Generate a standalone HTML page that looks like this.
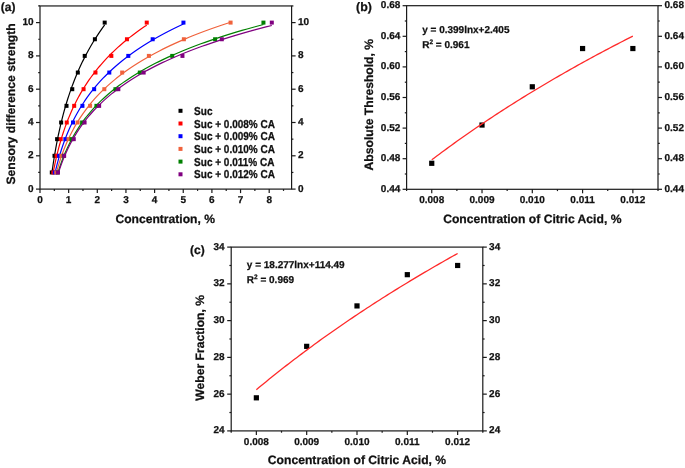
<!DOCTYPE html>
<html><head><meta charset="utf-8"><title>Figure</title>
<style>
html,body{margin:0;padding:0;background:#fff;}
body{width:685px;height:468px;overflow:hidden;}
svg{display:block;font-family:"Liberation Sans",sans-serif;font-weight:bold;fill:#111;text-rendering:geometricPrecision;filter:blur(0.55px);}
svg text{stroke:#111;stroke-width:0.25px;}
</style></head><body>
<svg width="685" height="468" viewBox="0 0 685 468">
<rect width="685" height="468" fill="#fff" stroke="none"/>
<rect x="40.00" y="5.95" width="251.60" height="183.15" fill="none" stroke="#1a1a1a" stroke-width="1.2"/>
<line x1="40.00" y1="189.10" x2="40.00" y2="193.10" stroke="#1a1a1a" stroke-width="1.2" />
<text x="40.00" y="202.70" font-size="10" text-anchor="middle" >0</text>
<line x1="68.65" y1="189.10" x2="68.65" y2="193.10" stroke="#1a1a1a" stroke-width="1.2" />
<text x="68.65" y="202.70" font-size="10" text-anchor="middle" >1</text>
<line x1="97.30" y1="189.10" x2="97.30" y2="193.10" stroke="#1a1a1a" stroke-width="1.2" />
<text x="97.30" y="202.70" font-size="10" text-anchor="middle" >2</text>
<line x1="125.95" y1="189.10" x2="125.95" y2="193.10" stroke="#1a1a1a" stroke-width="1.2" />
<text x="125.95" y="202.70" font-size="10" text-anchor="middle" >3</text>
<line x1="154.60" y1="189.10" x2="154.60" y2="193.10" stroke="#1a1a1a" stroke-width="1.2" />
<text x="154.60" y="202.70" font-size="10" text-anchor="middle" >4</text>
<line x1="183.25" y1="189.10" x2="183.25" y2="193.10" stroke="#1a1a1a" stroke-width="1.2" />
<text x="183.25" y="202.70" font-size="10" text-anchor="middle" >5</text>
<line x1="211.90" y1="189.10" x2="211.90" y2="193.10" stroke="#1a1a1a" stroke-width="1.2" />
<text x="211.90" y="202.70" font-size="10" text-anchor="middle" >6</text>
<line x1="240.55" y1="189.10" x2="240.55" y2="193.10" stroke="#1a1a1a" stroke-width="1.2" />
<text x="240.55" y="202.70" font-size="10" text-anchor="middle" >7</text>
<line x1="269.20" y1="189.10" x2="269.20" y2="193.10" stroke="#1a1a1a" stroke-width="1.2" />
<text x="269.20" y="202.70" font-size="10" text-anchor="middle" >8</text>
<line x1="54.33" y1="189.10" x2="54.33" y2="190.90" stroke="#1a1a1a" stroke-width="1.2" />
<line x1="82.97" y1="189.10" x2="82.97" y2="190.90" stroke="#1a1a1a" stroke-width="1.2" />
<line x1="111.62" y1="189.10" x2="111.62" y2="190.90" stroke="#1a1a1a" stroke-width="1.2" />
<line x1="140.27" y1="189.10" x2="140.27" y2="190.90" stroke="#1a1a1a" stroke-width="1.2" />
<line x1="168.92" y1="189.10" x2="168.92" y2="190.90" stroke="#1a1a1a" stroke-width="1.2" />
<line x1="197.57" y1="189.10" x2="197.57" y2="190.90" stroke="#1a1a1a" stroke-width="1.2" />
<line x1="226.22" y1="189.10" x2="226.22" y2="190.90" stroke="#1a1a1a" stroke-width="1.2" />
<line x1="254.88" y1="189.10" x2="254.88" y2="190.90" stroke="#1a1a1a" stroke-width="1.2" />
<line x1="283.52" y1="189.10" x2="283.52" y2="190.90" stroke="#1a1a1a" stroke-width="1.2" />
<line x1="36.00" y1="189.10" x2="40.00" y2="189.10" stroke="#1a1a1a" stroke-width="1.2" />
<text x="33.50" y="191.60" font-size="10" text-anchor="end" >0</text>
<line x1="291.60" y1="189.10" x2="295.60" y2="189.10" stroke="#1a1a1a" stroke-width="1.2" />
<text x="297.90" y="191.60" font-size="10" text-anchor="start" >0</text>
<line x1="36.00" y1="155.80" x2="40.00" y2="155.80" stroke="#1a1a1a" stroke-width="1.2" />
<text x="33.50" y="158.30" font-size="10" text-anchor="end" >2</text>
<line x1="291.60" y1="155.80" x2="295.60" y2="155.80" stroke="#1a1a1a" stroke-width="1.2" />
<text x="297.90" y="158.30" font-size="10" text-anchor="start" >2</text>
<line x1="36.00" y1="122.50" x2="40.00" y2="122.50" stroke="#1a1a1a" stroke-width="1.2" />
<text x="33.50" y="125.00" font-size="10" text-anchor="end" >4</text>
<line x1="291.60" y1="122.50" x2="295.60" y2="122.50" stroke="#1a1a1a" stroke-width="1.2" />
<text x="297.90" y="125.00" font-size="10" text-anchor="start" >4</text>
<line x1="36.00" y1="89.20" x2="40.00" y2="89.20" stroke="#1a1a1a" stroke-width="1.2" />
<text x="33.50" y="91.70" font-size="10" text-anchor="end" >6</text>
<line x1="291.60" y1="89.20" x2="295.60" y2="89.20" stroke="#1a1a1a" stroke-width="1.2" />
<text x="297.90" y="91.70" font-size="10" text-anchor="start" >6</text>
<line x1="36.00" y1="55.90" x2="40.00" y2="55.90" stroke="#1a1a1a" stroke-width="1.2" />
<text x="33.50" y="58.40" font-size="10" text-anchor="end" >8</text>
<line x1="291.60" y1="55.90" x2="295.60" y2="55.90" stroke="#1a1a1a" stroke-width="1.2" />
<text x="297.90" y="58.40" font-size="10" text-anchor="start" >8</text>
<line x1="36.00" y1="22.60" x2="40.00" y2="22.60" stroke="#1a1a1a" stroke-width="1.2" />
<text x="33.50" y="25.10" font-size="10" text-anchor="end" >10</text>
<line x1="291.60" y1="22.60" x2="295.60" y2="22.60" stroke="#1a1a1a" stroke-width="1.2" />
<text x="297.90" y="25.10" font-size="10" text-anchor="start" >10</text>
<line x1="38.20" y1="172.45" x2="40.00" y2="172.45" stroke="#1a1a1a" stroke-width="1.2" />
<line x1="291.60" y1="172.45" x2="293.40" y2="172.45" stroke="#1a1a1a" stroke-width="1.2" />
<line x1="38.20" y1="139.15" x2="40.00" y2="139.15" stroke="#1a1a1a" stroke-width="1.2" />
<line x1="291.60" y1="139.15" x2="293.40" y2="139.15" stroke="#1a1a1a" stroke-width="1.2" />
<line x1="38.20" y1="105.85" x2="40.00" y2="105.85" stroke="#1a1a1a" stroke-width="1.2" />
<line x1="291.60" y1="105.85" x2="293.40" y2="105.85" stroke="#1a1a1a" stroke-width="1.2" />
<line x1="38.20" y1="72.55" x2="40.00" y2="72.55" stroke="#1a1a1a" stroke-width="1.2" />
<line x1="291.60" y1="72.55" x2="293.40" y2="72.55" stroke="#1a1a1a" stroke-width="1.2" />
<line x1="38.20" y1="39.25" x2="40.00" y2="39.25" stroke="#1a1a1a" stroke-width="1.2" />
<line x1="291.60" y1="39.25" x2="293.40" y2="39.25" stroke="#1a1a1a" stroke-width="1.2" />
<line x1="38.20" y1="5.95" x2="40.00" y2="5.95" stroke="#1a1a1a" stroke-width="1.2" />
<line x1="291.60" y1="5.95" x2="293.40" y2="5.95" stroke="#1a1a1a" stroke-width="1.2" />
<polyline points="51.80,173.66 52.01,172.17 52.21,170.68 52.42,169.19 52.63,167.71 52.85,166.22 53.07,164.73 53.30,163.24 53.52,161.76 53.76,160.27 53.99,158.78 54.23,157.30 54.48,155.81 54.73,154.32 54.98,152.83 55.24,151.35 55.50,149.86 55.76,148.37 56.03,146.88 56.31,145.40 56.59,143.91 56.87,142.42 57.16,140.94 57.46,139.45 57.76,137.96 58.06,136.47 58.37,134.99 58.69,133.50 59.01,132.01 59.33,130.52 59.66,129.04 60.00,127.55 60.34,126.06 60.69,124.58 61.05,123.09 61.41,121.60 61.78,120.11 62.15,118.63 62.53,117.14 62.92,115.65 63.31,114.16 63.71,112.68 64.12,111.19 64.53,109.70 64.95,108.22 65.38,106.73 65.82,105.24 66.26,103.75 66.71,102.27 67.17,100.78 67.63,99.29 68.11,97.80 68.59,96.32 69.08,94.83 69.58,93.34 70.09,91.86 70.60,90.37 71.13,88.88 71.66,87.39 72.21,85.91 72.76,84.42 73.32,82.93 73.89,81.44 74.47,79.96 75.06,78.47 75.67,76.98 76.28,75.49 76.90,74.01 77.53,72.52 78.18,71.03 78.83,69.55 79.50,68.06 80.18,66.57 80.87,65.08 81.57,63.60 82.28,62.11 83.01,60.62 83.74,59.13 84.49,57.65 85.26,56.16 86.03,54.67 86.82,53.19 87.63,51.70 88.44,50.21 89.28,48.72 90.12,47.24 90.98,45.75 91.86,44.26 92.75,42.77 93.65,41.29 94.57,39.80 95.51,38.31 96.46,36.83 97.43,35.34 98.41,33.85 99.42,32.36 100.44,30.88 101.47,29.39 102.53,27.90 103.60,26.41 104.69,24.93" fill="none" stroke="#000000" stroke-width="1.2" stroke-linejoin="round"/>
<rect x="49.80" y="170.45" width="4.0" height="4.0" fill="#000000" stroke="none"/>
<rect x="52.50" y="153.80" width="4.0" height="4.0" fill="#000000" stroke="none"/>
<rect x="55.10" y="137.15" width="4.0" height="4.0" fill="#000000" stroke="none"/>
<rect x="59.14" y="120.50" width="4.0" height="4.0" fill="#000000" stroke="none"/>
<rect x="64.50" y="103.85" width="4.0" height="4.0" fill="#000000" stroke="none"/>
<rect x="70.26" y="87.20" width="4.0" height="4.0" fill="#000000" stroke="none"/>
<rect x="75.82" y="70.55" width="4.0" height="4.0" fill="#000000" stroke="none"/>
<rect x="82.72" y="53.90" width="4.0" height="4.0" fill="#000000" stroke="none"/>
<rect x="92.89" y="37.25" width="4.0" height="4.0" fill="#000000" stroke="none"/>
<rect x="102.69" y="20.60" width="4.0" height="4.0" fill="#000000" stroke="none"/>
<polyline points="53.32,171.91 53.60,170.44 53.89,168.98 54.18,167.51 54.48,166.04 54.78,164.57 55.09,163.11 55.41,161.64 55.74,160.17 56.07,158.70 56.40,157.24 56.75,155.77 57.10,154.30 57.46,152.83 57.83,151.37 58.20,149.90 58.59,148.43 58.98,146.96 59.38,145.50 59.78,144.03 60.20,142.56 60.62,141.09 61.06,139.63 61.50,138.16 61.95,136.69 62.41,135.22 62.89,133.76 63.37,132.29 63.86,130.82 64.36,129.35 64.87,127.89 65.40,126.42 65.93,124.95 66.47,123.48 67.03,122.02 67.60,120.55 68.18,119.08 68.77,117.61 69.38,116.15 70.00,114.68 70.63,113.21 71.27,111.74 71.93,110.27 72.60,108.81 73.28,107.34 73.98,105.87 74.70,104.40 75.43,102.94 76.17,101.47 76.93,100.00 77.71,98.53 78.50,97.07 79.31,95.60 80.14,94.13 80.98,92.66 81.85,91.20 82.73,89.73 83.63,88.26 84.54,86.79 85.48,85.33 86.44,83.86 87.41,82.39 88.41,80.92 89.43,79.46 90.47,77.99 91.53,76.52 92.61,75.05 93.72,73.59 94.85,72.12 96.00,70.65 97.18,69.18 98.38,67.72 99.61,66.25 100.86,64.78 102.14,63.31 103.45,61.85 104.78,60.38 106.14,58.91 107.54,57.44 108.96,55.98 110.41,54.51 111.89,53.04 113.40,51.57 114.94,50.10 116.52,48.64 118.13,47.17 119.77,45.70 121.45,44.23 123.16,42.77 124.91,41.30 126.69,39.83 128.52,38.36 130.38,36.90 132.28,35.43 134.22,33.96 136.20,32.49 138.22,31.03 140.29,29.56 142.40,28.09 144.55,26.62 146.75,25.16" fill="none" stroke="#ff0000" stroke-width="1.2" stroke-linejoin="round"/>
<rect x="51.32" y="170.45" width="4.0" height="4.0" fill="#ff0000" stroke="none"/>
<rect x="54.62" y="153.80" width="4.0" height="4.0" fill="#ff0000" stroke="none"/>
<rect x="58.71" y="137.15" width="4.0" height="4.0" fill="#ff0000" stroke="none"/>
<rect x="64.76" y="120.50" width="4.0" height="4.0" fill="#ff0000" stroke="none"/>
<rect x="72.18" y="103.85" width="4.0" height="4.0" fill="#ff0000" stroke="none"/>
<rect x="81.58" y="87.20" width="4.0" height="4.0" fill="#ff0000" stroke="none"/>
<rect x="93.47" y="70.55" width="4.0" height="4.0" fill="#ff0000" stroke="none"/>
<rect x="109.34" y="53.90" width="4.0" height="4.0" fill="#ff0000" stroke="none"/>
<rect x="124.95" y="37.25" width="4.0" height="4.0" fill="#ff0000" stroke="none"/>
<rect x="144.75" y="20.60" width="4.0" height="4.0" fill="#ff0000" stroke="none"/>
<polyline points="54.81,173.96 55.15,172.46 55.50,170.96 55.86,169.46 56.22,167.96 56.59,166.46 56.97,164.96 57.36,163.46 57.76,161.96 58.17,160.46 58.59,158.96 59.01,157.46 59.45,155.96 59.90,154.46 60.35,152.96 60.82,151.46 61.30,149.96 61.79,148.46 62.29,146.96 62.80,145.46 63.33,143.96 63.86,142.46 64.41,140.96 64.97,139.46 65.54,137.96 66.13,136.46 66.73,134.96 67.34,133.46 67.97,131.96 68.61,130.46 69.27,128.96 69.94,127.46 70.63,125.96 71.33,124.46 72.05,122.96 72.79,121.46 73.54,119.96 74.31,118.46 75.10,116.96 75.91,115.46 76.73,113.96 77.58,112.46 78.44,110.96 79.32,109.46 80.22,107.96 81.15,106.46 82.09,104.96 83.06,103.46 84.05,101.96 85.06,100.46 86.10,98.96 87.15,97.46 88.24,95.96 89.34,94.46 90.48,92.96 91.64,91.46 92.82,89.96 94.04,88.46 95.28,86.96 96.55,85.46 97.85,83.96 99.17,82.46 100.53,80.96 101.92,79.46 103.34,77.96 104.80,76.46 106.29,74.96 107.81,73.46 109.37,71.96 110.96,70.46 112.59,68.96 114.26,67.46 115.96,65.96 117.71,64.46 119.49,62.96 121.32,61.46 123.18,59.96 125.09,58.46 127.05,56.96 129.05,55.46 131.09,53.96 133.18,52.46 135.32,50.96 137.51,49.46 139.75,47.96 142.04,46.46 144.39,44.96 146.79,43.46 149.24,41.96 151.75,40.46 154.31,38.96 156.94,37.46 159.62,35.96 162.37,34.46 165.18,32.96 168.06,31.46 171.00,29.96 174.00,28.46 177.08,26.96 180.23,25.46 183.45,23.96" fill="none" stroke="#0000ff" stroke-width="1.2" stroke-linejoin="round"/>
<rect x="52.81" y="170.45" width="4.0" height="4.0" fill="#0000ff" stroke="none"/>
<rect x="57.11" y="153.80" width="4.0" height="4.0" fill="#0000ff" stroke="none"/>
<rect x="63.36" y="137.15" width="4.0" height="4.0" fill="#0000ff" stroke="none"/>
<rect x="71.00" y="120.50" width="4.0" height="4.0" fill="#0000ff" stroke="none"/>
<rect x="80.43" y="103.85" width="4.0" height="4.0" fill="#0000ff" stroke="none"/>
<rect x="92.15" y="87.20" width="4.0" height="4.0" fill="#0000ff" stroke="none"/>
<rect x="107.30" y="70.55" width="4.0" height="4.0" fill="#0000ff" stroke="none"/>
<rect x="126.30" y="53.90" width="4.0" height="4.0" fill="#0000ff" stroke="none"/>
<rect x="150.68" y="37.25" width="4.0" height="4.0" fill="#0000ff" stroke="none"/>
<rect x="181.45" y="20.60" width="4.0" height="4.0" fill="#0000ff" stroke="none"/>
<polyline points="56.27,173.20 56.68,171.69 57.09,170.18 57.52,168.67 57.96,167.16 58.40,165.65 58.86,164.14 59.33,162.63 59.81,161.12 60.31,159.61 60.81,158.10 61.33,156.59 61.86,155.08 62.41,153.57 62.97,152.06 63.54,150.55 64.12,149.04 64.72,147.53 65.34,146.03 65.97,144.52 66.62,143.01 67.28,141.50 67.96,139.99 68.66,138.48 69.37,136.97 70.10,135.46 70.85,133.95 71.62,132.44 72.41,130.93 73.22,129.42 74.05,127.91 74.89,126.40 75.76,124.89 76.65,123.38 77.57,121.87 78.50,120.36 79.46,118.85 80.44,117.34 81.45,115.83 82.48,114.32 83.54,112.81 84.63,111.30 85.74,109.79 86.88,108.28 88.05,106.77 89.24,105.26 90.47,103.75 91.73,102.24 93.02,100.73 94.34,99.22 95.69,97.71 97.08,96.20 98.50,94.69 99.96,93.18 101.45,91.67 102.98,90.16 104.55,88.65 106.16,87.14 107.81,85.63 109.49,84.12 111.23,82.62 113.00,81.11 114.82,79.60 116.68,78.09 118.59,76.58 120.55,75.07 122.56,73.56 124.61,72.05 126.72,70.54 128.88,69.03 131.10,67.52 133.36,66.01 135.69,64.50 138.07,62.99 140.52,61.48 143.02,59.97 145.59,58.46 148.22,56.95 150.91,55.44 153.68,53.93 156.51,52.42 159.41,50.91 162.38,49.40 165.43,47.89 168.56,46.38 171.76,44.87 175.04,43.36 178.41,41.85 181.85,40.34 185.39,38.83 189.01,37.32 192.72,35.81 196.53,34.30 200.43,32.79 204.42,31.28 208.52,29.77 212.72,28.26 217.02,26.75 221.43,25.24 225.95,23.73 230.58,22.22" fill="none" stroke="#f0623c" stroke-width="1.2" stroke-linejoin="round"/>
<rect x="54.27" y="170.45" width="4.0" height="4.0" fill="#f0623c" stroke="none"/>
<rect x="59.46" y="153.80" width="4.0" height="4.0" fill="#f0623c" stroke="none"/>
<rect x="66.51" y="137.15" width="4.0" height="4.0" fill="#f0623c" stroke="none"/>
<rect x="75.59" y="120.50" width="4.0" height="4.0" fill="#f0623c" stroke="none"/>
<rect x="88.11" y="103.85" width="4.0" height="4.0" fill="#f0623c" stroke="none"/>
<rect x="102.32" y="87.20" width="4.0" height="4.0" fill="#f0623c" stroke="none"/>
<rect x="120.17" y="70.55" width="4.0" height="4.0" fill="#f0623c" stroke="none"/>
<rect x="146.87" y="53.90" width="4.0" height="4.0" fill="#f0623c" stroke="none"/>
<rect x="181.88" y="37.25" width="4.0" height="4.0" fill="#f0623c" stroke="none"/>
<rect x="228.58" y="20.60" width="4.0" height="4.0" fill="#f0623c" stroke="none"/>
<polyline points="57.88,172.87 58.33,171.39 58.80,169.90 59.28,168.42 59.78,166.94 60.28,165.45 60.80,163.97 61.33,162.49 61.88,161.00 62.44,159.52 63.01,158.04 63.60,156.55 64.21,155.07 64.83,153.58 65.46,152.10 66.11,150.62 66.78,149.13 67.46,147.65 68.17,146.17 68.89,144.68 69.63,143.20 70.38,141.72 71.16,140.23 71.96,138.75 72.78,137.27 73.61,135.78 74.47,134.30 75.36,132.81 76.26,131.33 77.19,129.85 78.14,128.36 79.11,126.88 80.11,125.40 81.14,123.91 82.19,122.43 83.27,120.95 84.38,119.46 85.51,117.98 86.68,116.50 87.87,115.01 89.10,113.53 90.35,112.04 91.64,110.56 92.96,109.08 94.32,107.59 95.70,106.11 97.13,104.63 98.59,103.14 100.09,101.66 101.63,100.18 103.20,98.69 104.82,97.21 106.48,95.73 108.18,94.24 109.92,92.76 111.71,91.27 113.54,89.79 115.43,88.31 117.35,86.82 119.33,85.34 121.36,83.86 123.44,82.37 125.58,80.89 127.77,79.41 130.01,77.92 132.31,76.44 134.67,74.96 137.10,73.47 139.58,71.99 142.13,70.51 144.74,69.02 147.42,67.54 150.17,66.05 152.98,64.57 155.87,63.09 158.84,61.60 161.88,60.12 164.99,58.64 168.19,57.15 171.47,55.67 174.83,54.19 178.28,52.70 181.82,51.22 185.44,49.74 189.16,48.25 192.98,46.77 196.89,45.28 200.91,43.80 205.02,42.32 209.24,40.83 213.57,39.35 218.01,37.87 222.56,36.38 227.23,34.90 232.02,33.42 236.93,31.93 241.97,30.45 247.14,28.97 252.44,27.48 257.87,26.00 263.44,24.51" fill="none" stroke="#008000" stroke-width="1.2" stroke-linejoin="round"/>
<rect x="55.88" y="170.45" width="4.0" height="4.0" fill="#008000" stroke="none"/>
<rect x="61.78" y="153.80" width="4.0" height="4.0" fill="#008000" stroke="none"/>
<rect x="69.52" y="137.15" width="4.0" height="4.0" fill="#008000" stroke="none"/>
<rect x="80.12" y="120.50" width="4.0" height="4.0" fill="#008000" stroke="none"/>
<rect x="94.44" y="103.85" width="4.0" height="4.0" fill="#008000" stroke="none"/>
<rect x="113.44" y="87.20" width="4.0" height="4.0" fill="#008000" stroke="none"/>
<rect x="137.82" y="70.55" width="4.0" height="4.0" fill="#008000" stroke="none"/>
<rect x="170.25" y="53.90" width="4.0" height="4.0" fill="#008000" stroke="none"/>
<rect x="213.11" y="37.25" width="4.0" height="4.0" fill="#008000" stroke="none"/>
<rect x="261.44" y="20.60" width="4.0" height="4.0" fill="#008000" stroke="none"/>
<polyline points="57.99,174.26 58.46,172.77 58.94,171.28 59.43,169.79 59.93,168.30 60.44,166.82 60.97,165.33 61.52,163.84 62.07,162.35 62.65,160.86 63.23,159.38 63.83,157.89 64.45,156.40 65.08,154.91 65.73,153.42 66.40,151.94 67.08,150.45 67.78,148.96 68.50,147.47 69.24,145.98 70.00,144.50 70.77,143.01 71.57,141.52 72.39,140.03 73.23,138.55 74.09,137.06 74.97,135.57 75.88,134.08 76.80,132.59 77.76,131.11 78.73,129.62 79.74,128.13 80.77,126.64 81.82,125.15 82.90,123.67 84.01,122.18 85.15,120.69 86.32,119.20 87.52,117.71 88.75,116.23 90.02,114.74 91.31,113.25 92.64,111.76 94.00,110.27 95.40,108.79 96.83,107.30 98.30,105.81 99.81,104.32 101.36,102.84 102.95,101.35 104.58,99.86 106.25,98.37 107.97,96.88 109.73,95.40 111.53,93.91 113.39,92.42 115.28,90.93 117.23,89.44 119.23,87.96 121.28,86.47 123.39,84.98 125.55,83.49 127.76,82.00 130.03,80.52 132.37,79.03 134.76,77.54 137.21,76.05 139.73,74.56 142.31,73.08 144.96,71.59 147.67,70.10 150.46,68.61 153.32,67.12 156.26,65.64 159.27,64.15 162.35,62.66 165.52,61.17 168.77,59.69 172.10,58.20 175.52,56.71 179.03,55.22 182.63,53.73 186.33,52.25 190.11,50.76 194.00,49.27 197.99,47.78 202.08,46.29 206.27,44.81 210.58,43.32 214.99,41.83 219.52,40.34 224.17,38.85 228.94,37.37 233.83,35.88 238.85,34.39 244.00,32.90 249.28,31.41 254.70,29.93 260.26,28.44 265.96,26.95 271.81,25.46" fill="none" stroke="#800080" stroke-width="1.2" stroke-linejoin="round"/>
<rect x="55.99" y="170.45" width="4.0" height="4.0" fill="#800080" stroke="none"/>
<rect x="62.15" y="153.80" width="4.0" height="4.0" fill="#800080" stroke="none"/>
<rect x="71.75" y="137.15" width="4.0" height="4.0" fill="#800080" stroke="none"/>
<rect x="82.58" y="120.50" width="4.0" height="4.0" fill="#800080" stroke="none"/>
<rect x="97.13" y="103.85" width="4.0" height="4.0" fill="#800080" stroke="none"/>
<rect x="116.33" y="87.20" width="4.0" height="4.0" fill="#800080" stroke="none"/>
<rect x="141.66" y="70.55" width="4.0" height="4.0" fill="#800080" stroke="none"/>
<rect x="180.45" y="53.90" width="4.0" height="4.0" fill="#800080" stroke="none"/>
<rect x="219.81" y="37.25" width="4.0" height="4.0" fill="#800080" stroke="none"/>
<rect x="269.81" y="20.60" width="4.0" height="4.0" fill="#800080" stroke="none"/>
<rect x="178.50" y="108.80" width="4.0" height="4.0" fill="#000000" stroke="none"/>
<text transform="translate(194.1,114.90) scale(1,1.15)" font-size="10" text-anchor="start">Suc</text>
<rect x="178.50" y="121.50" width="4.0" height="4.0" fill="#ff0000" stroke="none"/>
<text transform="translate(194.1,127.60) scale(1,1.15)" font-size="10" text-anchor="start">Suc + 0.008% CA</text>
<rect x="178.50" y="134.20" width="4.0" height="4.0" fill="#0000ff" stroke="none"/>
<text transform="translate(194.1,140.30) scale(1,1.15)" font-size="10" text-anchor="start">Suc + 0.009% CA</text>
<rect x="178.50" y="146.90" width="4.0" height="4.0" fill="#f0623c" stroke="none"/>
<text transform="translate(194.1,153.00) scale(1,1.15)" font-size="10" text-anchor="start">Suc + 0.010% CA</text>
<rect x="178.50" y="159.60" width="4.0" height="4.0" fill="#008000" stroke="none"/>
<text transform="translate(194.1,165.70) scale(1,1.15)" font-size="10" text-anchor="start">Suc + 0.011% CA</text>
<rect x="178.50" y="172.30" width="4.0" height="4.0" fill="#800080" stroke="none"/>
<text transform="translate(194.1,178.40) scale(1,1.15)" font-size="10" text-anchor="start">Suc + 0.012% CA</text>
<text x="165.20" y="223.30" font-size="12.1" text-anchor="middle" >Concentration, %</text>
<text transform="translate(14.5,103.925) rotate(-90)" font-size="12.15" text-anchor="middle">Sensory difference strength</text>
<text x="0.80" y="10.90" font-size="12" text-anchor="start" >(a)</text>
<rect x="406.60" y="5.70" width="251.40" height="183.60" fill="none" stroke="#1a1a1a" stroke-width="1.2"/>
<line x1="431.74" y1="189.30" x2="431.74" y2="193.30" stroke="#1a1a1a" stroke-width="1.2" />
<text x="431.74" y="202.90" font-size="10" text-anchor="middle" >0.008</text>
<line x1="482.02" y1="189.30" x2="482.02" y2="193.30" stroke="#1a1a1a" stroke-width="1.2" />
<text x="482.02" y="202.90" font-size="10" text-anchor="middle" >0.009</text>
<line x1="532.30" y1="189.30" x2="532.30" y2="193.30" stroke="#1a1a1a" stroke-width="1.2" />
<text x="532.30" y="202.90" font-size="10" text-anchor="middle" >0.010</text>
<line x1="582.58" y1="189.30" x2="582.58" y2="193.30" stroke="#1a1a1a" stroke-width="1.2" />
<text x="582.58" y="202.90" font-size="10" text-anchor="middle" >0.011</text>
<line x1="632.86" y1="189.30" x2="632.86" y2="193.30" stroke="#1a1a1a" stroke-width="1.2" />
<text x="632.86" y="202.90" font-size="10" text-anchor="middle" >0.012</text>
<line x1="406.60" y1="189.30" x2="406.60" y2="191.10" stroke="#1a1a1a" stroke-width="1.2" />
<line x1="456.88" y1="189.30" x2="456.88" y2="191.10" stroke="#1a1a1a" stroke-width="1.2" />
<line x1="507.16" y1="189.30" x2="507.16" y2="191.10" stroke="#1a1a1a" stroke-width="1.2" />
<line x1="557.44" y1="189.30" x2="557.44" y2="191.10" stroke="#1a1a1a" stroke-width="1.2" />
<line x1="607.72" y1="189.30" x2="607.72" y2="191.10" stroke="#1a1a1a" stroke-width="1.2" />
<line x1="658.00" y1="189.30" x2="658.00" y2="191.10" stroke="#1a1a1a" stroke-width="1.2" />
<line x1="402.60" y1="189.30" x2="406.60" y2="189.30" stroke="#1a1a1a" stroke-width="1.2" />
<text x="400.30" y="191.80" font-size="10" text-anchor="end" >0.44</text>
<line x1="658.00" y1="189.30" x2="662.00" y2="189.30" stroke="#1a1a1a" stroke-width="1.2" />
<text x="664.50" y="191.80" font-size="10" text-anchor="start" >0.44</text>
<line x1="402.60" y1="158.70" x2="406.60" y2="158.70" stroke="#1a1a1a" stroke-width="1.2" />
<text x="400.30" y="161.20" font-size="10" text-anchor="end" >0.48</text>
<line x1="658.00" y1="158.70" x2="662.00" y2="158.70" stroke="#1a1a1a" stroke-width="1.2" />
<text x="664.50" y="161.20" font-size="10" text-anchor="start" >0.48</text>
<line x1="402.60" y1="128.10" x2="406.60" y2="128.10" stroke="#1a1a1a" stroke-width="1.2" />
<text x="400.30" y="130.60" font-size="10" text-anchor="end" >0.52</text>
<line x1="658.00" y1="128.10" x2="662.00" y2="128.10" stroke="#1a1a1a" stroke-width="1.2" />
<text x="664.50" y="130.60" font-size="10" text-anchor="start" >0.52</text>
<line x1="402.60" y1="97.50" x2="406.60" y2="97.50" stroke="#1a1a1a" stroke-width="1.2" />
<text x="400.30" y="100.00" font-size="10" text-anchor="end" >0.56</text>
<line x1="658.00" y1="97.50" x2="662.00" y2="97.50" stroke="#1a1a1a" stroke-width="1.2" />
<text x="664.50" y="100.00" font-size="10" text-anchor="start" >0.56</text>
<line x1="402.60" y1="66.90" x2="406.60" y2="66.90" stroke="#1a1a1a" stroke-width="1.2" />
<text x="400.30" y="69.40" font-size="10" text-anchor="end" >0.60</text>
<line x1="658.00" y1="66.90" x2="662.00" y2="66.90" stroke="#1a1a1a" stroke-width="1.2" />
<text x="664.50" y="69.40" font-size="10" text-anchor="start" >0.60</text>
<line x1="402.60" y1="36.30" x2="406.60" y2="36.30" stroke="#1a1a1a" stroke-width="1.2" />
<text x="400.30" y="38.80" font-size="10" text-anchor="end" >0.64</text>
<line x1="658.00" y1="36.30" x2="662.00" y2="36.30" stroke="#1a1a1a" stroke-width="1.2" />
<text x="664.50" y="38.80" font-size="10" text-anchor="start" >0.64</text>
<line x1="402.60" y1="5.70" x2="406.60" y2="5.70" stroke="#1a1a1a" stroke-width="1.2" />
<text x="400.30" y="8.20" font-size="10" text-anchor="end" >0.68</text>
<line x1="658.00" y1="5.70" x2="662.00" y2="5.70" stroke="#1a1a1a" stroke-width="1.2" />
<text x="664.50" y="8.20" font-size="10" text-anchor="start" >0.68</text>
<line x1="404.80" y1="174.00" x2="406.60" y2="174.00" stroke="#1a1a1a" stroke-width="1.2" />
<line x1="658.00" y1="174.00" x2="659.80" y2="174.00" stroke="#1a1a1a" stroke-width="1.2" />
<line x1="404.80" y1="143.40" x2="406.60" y2="143.40" stroke="#1a1a1a" stroke-width="1.2" />
<line x1="658.00" y1="143.40" x2="659.80" y2="143.40" stroke="#1a1a1a" stroke-width="1.2" />
<line x1="404.80" y1="112.80" x2="406.60" y2="112.80" stroke="#1a1a1a" stroke-width="1.2" />
<line x1="658.00" y1="112.80" x2="659.80" y2="112.80" stroke="#1a1a1a" stroke-width="1.2" />
<line x1="404.80" y1="82.20" x2="406.60" y2="82.20" stroke="#1a1a1a" stroke-width="1.2" />
<line x1="658.00" y1="82.20" x2="659.80" y2="82.20" stroke="#1a1a1a" stroke-width="1.2" />
<line x1="404.80" y1="51.60" x2="406.60" y2="51.60" stroke="#1a1a1a" stroke-width="1.2" />
<line x1="658.00" y1="51.60" x2="659.80" y2="51.60" stroke="#1a1a1a" stroke-width="1.2" />
<line x1="404.80" y1="21.00" x2="406.60" y2="21.00" stroke="#1a1a1a" stroke-width="1.2" />
<line x1="658.00" y1="21.00" x2="659.80" y2="21.00" stroke="#1a1a1a" stroke-width="1.2" />
<rect x="429.14" y="160.69" width="5.2" height="5.2" fill="#000" stroke="none"/>
<rect x="479.42" y="122.44" width="5.2" height="5.2" fill="#000" stroke="none"/>
<rect x="529.70" y="84.19" width="5.2" height="5.2" fill="#000" stroke="none"/>
<rect x="579.98" y="45.94" width="5.2" height="5.2" fill="#000" stroke="none"/>
<rect x="630.26" y="45.94" width="5.2" height="5.2" fill="#000" stroke="none"/>
<polyline points="431.74,159.85 434.25,157.94 436.77,156.05 439.28,154.18 441.80,152.31 444.31,150.45 446.82,148.61 449.34,146.78 451.85,144.95 454.37,143.14 456.88,141.34 459.39,139.55 461.91,137.77 464.42,136.00 466.94,134.24 469.45,132.49 471.96,130.75 474.48,129.02 476.99,127.30 479.51,125.59 482.02,123.89 484.53,122.20 487.05,120.52 489.56,118.85 492.08,117.19 494.59,115.53 497.10,113.89 499.62,112.25 502.13,110.62 504.65,109.00 507.16,107.39 509.67,105.79 512.19,104.19 514.70,102.61 517.22,101.03 519.73,99.46 522.24,97.90 524.76,96.35 527.27,94.80 529.79,93.26 532.30,91.73 534.81,90.21 537.33,88.70 539.84,87.19 542.36,85.69 544.87,84.20 547.38,82.71 549.90,81.23 552.41,79.76 554.93,78.30 557.44,76.84 559.95,75.39 562.47,73.95 564.98,72.51 567.50,71.08 570.01,69.66 572.52,68.24 575.04,66.83 577.55,65.43 580.07,64.03 582.58,62.64 585.09,61.26 587.61,59.88 590.12,58.51 592.64,57.14 595.15,55.78 597.66,54.43 600.18,53.08 602.69,51.74 605.21,50.40 607.72,49.07 610.23,47.75 612.75,46.43 615.26,45.12 617.78,43.81 620.29,42.51 622.80,41.21 625.32,39.92 627.83,38.64 630.35,37.36 632.86,36.08" fill="none" stroke="#ff2a2a" stroke-width="1.3"/>
<text x="532.30" y="223.30" font-size="12.15" text-anchor="middle" >Concentration of Citric Acid, %</text>
<text transform="translate(373.0,104.7) rotate(-90)" font-size="12.15" text-anchor="middle">Absolute Threshold, %</text>
<text x="356.00" y="11.00" font-size="12.4" text-anchor="start" >(b)</text>
<text x="422.20" y="32.80" font-size="10" text-anchor="start" >y = 0.399lnx+2.405</text>
<text x="422.2" y="47.8" font-size="10" text-anchor="start">R<tspan font-size="6.5" dy="-4">2</tspan><tspan dy="4"> = 0.961</tspan></text>
<rect x="231.20" y="247.10" width="251.60" height="183.80" fill="none" stroke="#1a1a1a" stroke-width="1.2"/>
<line x1="256.36" y1="430.90" x2="256.36" y2="434.90" stroke="#1a1a1a" stroke-width="1.2" />
<text x="256.36" y="444.50" font-size="10" text-anchor="middle" >0.008</text>
<line x1="306.68" y1="430.90" x2="306.68" y2="434.90" stroke="#1a1a1a" stroke-width="1.2" />
<text x="306.68" y="444.50" font-size="10" text-anchor="middle" >0.009</text>
<line x1="357.00" y1="430.90" x2="357.00" y2="434.90" stroke="#1a1a1a" stroke-width="1.2" />
<text x="357.00" y="444.50" font-size="10" text-anchor="middle" >0.010</text>
<line x1="407.32" y1="430.90" x2="407.32" y2="434.90" stroke="#1a1a1a" stroke-width="1.2" />
<text x="407.32" y="444.50" font-size="10" text-anchor="middle" >0.011</text>
<line x1="457.64" y1="430.90" x2="457.64" y2="434.90" stroke="#1a1a1a" stroke-width="1.2" />
<text x="457.64" y="444.50" font-size="10" text-anchor="middle" >0.012</text>
<line x1="231.20" y1="430.90" x2="231.20" y2="432.70" stroke="#1a1a1a" stroke-width="1.2" />
<line x1="281.52" y1="430.90" x2="281.52" y2="432.70" stroke="#1a1a1a" stroke-width="1.2" />
<line x1="331.84" y1="430.90" x2="331.84" y2="432.70" stroke="#1a1a1a" stroke-width="1.2" />
<line x1="382.16" y1="430.90" x2="382.16" y2="432.70" stroke="#1a1a1a" stroke-width="1.2" />
<line x1="432.48" y1="430.90" x2="432.48" y2="432.70" stroke="#1a1a1a" stroke-width="1.2" />
<line x1="482.80" y1="430.90" x2="482.80" y2="432.70" stroke="#1a1a1a" stroke-width="1.2" />
<line x1="227.20" y1="430.90" x2="231.20" y2="430.90" stroke="#1a1a1a" stroke-width="1.2" />
<text x="224.70" y="433.40" font-size="10" text-anchor="end" >24</text>
<line x1="482.80" y1="430.90" x2="486.80" y2="430.90" stroke="#1a1a1a" stroke-width="1.2" />
<text x="489.10" y="433.40" font-size="10" text-anchor="start" >24</text>
<line x1="227.20" y1="394.14" x2="231.20" y2="394.14" stroke="#1a1a1a" stroke-width="1.2" />
<text x="224.70" y="396.64" font-size="10" text-anchor="end" >26</text>
<line x1="482.80" y1="394.14" x2="486.80" y2="394.14" stroke="#1a1a1a" stroke-width="1.2" />
<text x="489.10" y="396.64" font-size="10" text-anchor="start" >26</text>
<line x1="227.20" y1="357.38" x2="231.20" y2="357.38" stroke="#1a1a1a" stroke-width="1.2" />
<text x="224.70" y="359.88" font-size="10" text-anchor="end" >28</text>
<line x1="482.80" y1="357.38" x2="486.80" y2="357.38" stroke="#1a1a1a" stroke-width="1.2" />
<text x="489.10" y="359.88" font-size="10" text-anchor="start" >28</text>
<line x1="227.20" y1="320.62" x2="231.20" y2="320.62" stroke="#1a1a1a" stroke-width="1.2" />
<text x="224.70" y="323.12" font-size="10" text-anchor="end" >30</text>
<line x1="482.80" y1="320.62" x2="486.80" y2="320.62" stroke="#1a1a1a" stroke-width="1.2" />
<text x="489.10" y="323.12" font-size="10" text-anchor="start" >30</text>
<line x1="227.20" y1="283.86" x2="231.20" y2="283.86" stroke="#1a1a1a" stroke-width="1.2" />
<text x="224.70" y="286.36" font-size="10" text-anchor="end" >32</text>
<line x1="482.80" y1="283.86" x2="486.80" y2="283.86" stroke="#1a1a1a" stroke-width="1.2" />
<text x="489.10" y="286.36" font-size="10" text-anchor="start" >32</text>
<line x1="227.20" y1="247.10" x2="231.20" y2="247.10" stroke="#1a1a1a" stroke-width="1.2" />
<text x="224.70" y="249.60" font-size="10" text-anchor="end" >34</text>
<line x1="482.80" y1="247.10" x2="486.80" y2="247.10" stroke="#1a1a1a" stroke-width="1.2" />
<text x="489.10" y="249.60" font-size="10" text-anchor="start" >34</text>
<line x1="229.40" y1="412.52" x2="231.20" y2="412.52" stroke="#1a1a1a" stroke-width="1.2" />
<line x1="482.80" y1="412.52" x2="484.60" y2="412.52" stroke="#1a1a1a" stroke-width="1.2" />
<line x1="229.40" y1="375.76" x2="231.20" y2="375.76" stroke="#1a1a1a" stroke-width="1.2" />
<line x1="482.80" y1="375.76" x2="484.60" y2="375.76" stroke="#1a1a1a" stroke-width="1.2" />
<line x1="229.40" y1="339.00" x2="231.20" y2="339.00" stroke="#1a1a1a" stroke-width="1.2" />
<line x1="482.80" y1="339.00" x2="484.60" y2="339.00" stroke="#1a1a1a" stroke-width="1.2" />
<line x1="229.40" y1="302.24" x2="231.20" y2="302.24" stroke="#1a1a1a" stroke-width="1.2" />
<line x1="482.80" y1="302.24" x2="484.60" y2="302.24" stroke="#1a1a1a" stroke-width="1.2" />
<line x1="229.40" y1="265.48" x2="231.20" y2="265.48" stroke="#1a1a1a" stroke-width="1.2" />
<line x1="482.80" y1="265.48" x2="484.60" y2="265.48" stroke="#1a1a1a" stroke-width="1.2" />
<rect x="253.76" y="395.22" width="5.2" height="5.2" fill="#000" stroke="none"/>
<rect x="304.08" y="343.75" width="5.2" height="5.2" fill="#000" stroke="none"/>
<rect x="354.40" y="303.32" width="5.2" height="5.2" fill="#000" stroke="none"/>
<rect x="404.72" y="272.07" width="5.2" height="5.2" fill="#000" stroke="none"/>
<rect x="455.04" y="262.88" width="5.2" height="5.2" fill="#000" stroke="none"/>
<polyline points="256.36,389.68 258.88,387.58 261.39,385.50 263.91,383.43 266.42,381.38 268.94,379.34 271.46,377.31 273.97,375.29 276.49,373.29 279.00,371.29 281.52,369.31 284.04,367.34 286.55,365.38 289.07,363.43 291.58,361.50 294.10,359.57 296.62,357.66 299.13,355.75 301.65,353.86 304.16,351.98 306.68,350.11 309.20,348.25 311.71,346.40 314.23,344.56 316.74,342.72 319.26,340.90 321.78,339.09 324.29,337.29 326.81,335.50 329.32,333.72 331.84,331.95 334.36,330.18 336.87,328.43 339.39,326.68 341.90,324.95 344.42,323.22 346.94,321.50 349.45,319.79 351.97,318.09 354.48,316.40 357.00,314.71 359.52,313.04 362.03,311.37 364.55,309.71 367.06,308.06 369.58,306.42 372.10,304.78 374.61,303.16 377.13,301.54 379.64,299.93 382.16,298.32 384.68,296.73 387.19,295.14 389.71,293.56 392.22,291.99 394.74,290.42 397.26,288.86 399.77,287.31 402.29,285.76 404.80,284.23 407.32,282.70 409.84,281.17 412.35,279.66 414.87,278.15 417.38,276.64 419.90,275.15 422.42,273.66 424.93,272.17 427.45,270.70 429.96,269.23 432.48,267.76 435.00,266.31 437.51,264.86 440.03,263.41 442.54,261.97 445.06,260.54 447.58,259.11 450.09,257.69 452.61,256.28 455.12,254.87 457.64,253.47" fill="none" stroke="#ff2a2a" stroke-width="1.3"/>
<text x="357.00" y="464.00" font-size="12.15" text-anchor="middle" >Concentration of Citric Acid, %</text>
<text transform="translate(204,347.8) rotate(-90)" font-size="12.15" text-anchor="middle">Weber Fraction, %</text>
<text x="190.00" y="254.00" font-size="12" text-anchor="start" >(c)</text>
<text x="246.80" y="267.80" font-size="10" text-anchor="start" >y = 18.277lnx+114.49</text>
<text x="246.8" y="282.8" font-size="10" text-anchor="start">R<tspan font-size="6.5" dy="-4">2</tspan><tspan dy="4"> = 0.969</tspan></text>
</svg>
</body></html>
